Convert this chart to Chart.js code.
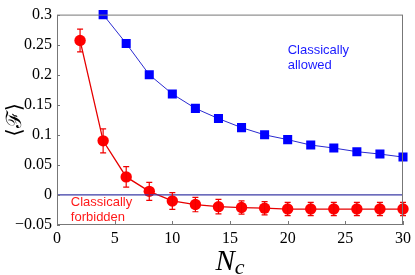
<!doctype html>
<html>

<head>
  <title>classically allowed / forbidden</title>
  <script src="https://cdn.jsdelivr.net/npm/chart.js@4.4.1/dist/chart.umd.min.js"></script>
  <style>
    html, body {
      margin: 0;
      padding: 0;
      background: #fff;
    }
    canvas {
      display: block;
    }
  </style>
</head>

<body>
  <canvas id="myChart" width="415" height="275"></canvas>

  <script>
    // N_c values and <F>
    var nForbidden = [2, 4, 6, 8, 10, 12, 14, 16, 18, 20, 22, 24, 26, 28, 30];
    var fForbidden = [0.257, 0.090, 0.030, 0.006, -0.010, -0.016, -0.0195, -0.021, -0.022, -0.0235, -0.0235, -0.0235, -0.0235, -0.0235, -0.0235];
    var errForbidden = [0.019, 0.020, 0.017, 0.015, 0.014, 0.012, 0.012, 0.011, 0.011, 0.011, 0.011, 0.011, 0.011, 0.011, 0.011];

    var nAllowed = [4, 6, 8, 10, 12, 14, 16, 18, 20, 22, 24, 26, 28, 30];
    var fAllowed = [0.300, 0.252, 0.200, 0.168, 0.144, 0.127, 0.112, 0.100, 0.092, 0.083, 0.078, 0.072, 0.068, 0.063];

    var zeroLineX = [0, 30];
    var xTicks = [0, 5, 10, 15, 20, 25, 30];
    var yTicks = [-0.05, 0, 0.05, 0.1, 0.15, 0.2, 0.25, 0.3];

    function pts(xs, ys) {
      return xs.map(function(x, i) { return {x: x, y: ys[i]}; });
    }

    var serif = "'Liberation Serif', 'Times New Roman', serif";
    var sans = "'Liberation Sans', Arial, sans-serif";

    // error bars, inward ticks, frame, annotations, x title with subscript
    var extras = {
      id: 'extras',
      afterDatasetsDraw: function(chart) {
        var ctx = chart.ctx;
        var xs = chart.scales.x, ys = chart.scales.y;
        var area = chart.chartArea;
        ctx.save();

        // error bars on the red series
        ctx.strokeStyle = '#f00000';
        ctx.lineWidth = 1.2;
        nForbidden.forEach(function(n, i) {
          var px = xs.getPixelForValue(n);
          var top = ys.getPixelForValue(fForbidden[i] + errForbidden[i]);
          var bot = ys.getPixelForValue(fForbidden[i] - errForbidden[i]);
          ctx.beginPath();
          ctx.moveTo(px, top); ctx.lineTo(px, bot);
          ctx.moveTo(px - 3, top); ctx.lineTo(px + 3, top);
          ctx.moveTo(px - 3, bot); ctx.lineTo(px + 3, bot);
          ctx.stroke();
        });

        // frame
        ctx.strokeStyle = '#777';
        ctx.lineWidth = 1;
        ctx.strokeRect(area.left + 0.5, area.top + 0.5, area.right - area.left - 1, area.bottom - area.top - 1);

        // inward ticks
        ctx.beginPath();
        xTicks.forEach(function(v) {
          var px = Math.round(xs.getPixelForValue(v)) + 0.5;
          ctx.moveTo(px, area.bottom); ctx.lineTo(px, area.bottom - 4);
        });
        yTicks.forEach(function(v) {
          var py = Math.round(ys.getPixelForValue(v)) + 0.5;
          ctx.moveTo(area.left, py); ctx.lineTo(area.left + 3, py);
        });
        ctx.stroke();

        // annotations
        ctx.font = '13px ' + sans;
        ctx.textBaseline = 'middle';
        ctx.textAlign = 'left';
        ctx.fillStyle = '#1a1aff';
        ctx.fillText('Classically', xs.getPixelForValue(20), ys.getPixelForValue(0.241));
        ctx.fillText('allowed', xs.getPixelForValue(20), ys.getPixelForValue(0.215));
        ctx.fillStyle = '#ff1a1a';
        ctx.fillText('Classically', xs.getPixelForValue(1.2), ys.getPixelForValue(-0.0125));
        ctx.fillText('forbidden', xs.getPixelForValue(1.2), ys.getPixelForValue(-0.037));

        // x axis title N_c
        ctx.fillStyle = '#000';
        ctx.textBaseline = 'alphabetic';
        var cx = (area.left + area.right) / 2;
        ctx.font = 'italic 29px ' + serif;
        var wN = ctx.measureText('N').width;
        ctx.font = 'italic 22px ' + serif;
        var wc = ctx.measureText('c').width;
        var x0 = cx - (wN + wc) / 2;
        ctx.font = 'italic 29px ' + serif;
        ctx.fillText('N', x0, 270);
        ctx.font = 'italic 22px ' + serif;
        ctx.fillText('c', x0 + wN, 274);

        ctx.restore();
      }
    };

    var config = {
      type: 'scatter',
      data: {
        datasets: [{
          label: 'zero',
          data: pts(zeroLineX, [0, 0]),
          showLine: true,
          borderColor: '#3b3ba6',
          borderWidth: 1.3,
          pointRadius: 0
        }, {
          label: 'allowed',
          data: pts(nAllowed, fAllowed),
          showLine: true,
          borderColor: '#2a2ad0',
          borderWidth: 1,
          pointStyle: 'rect',
          pointRadius: 6.4,
          pointBackgroundColor: '#0000ff',
          pointBorderColor: '#0000ff',
          pointBorderWidth: 0,
          clip: 8
        }, {
          label: 'forbidden',
          data: pts(nForbidden, fForbidden),
          showLine: true,
          borderColor: '#e60000',
          borderWidth: 1.3,
          pointStyle: 'circle',
          pointRadius: 5.7,
          pointBackgroundColor: '#ff0000',
          pointBorderColor: '#ff0000',
          pointBorderWidth: 0,
          clip: 8
        }]
      },
      options: {
        responsive: false,
        animation: false,
        layout: {
          padding: {top: 10, right: 9, left: 0, bottom: 0}
        },
        scales: {
          x: {
            type: 'linear',
            min: 0,
            max: 30,
            afterBuildTicks: function(scale) {
              scale.ticks = xTicks.map(function(v) { return {value: v}; });
            },
            afterFit: function(scale) { scale.height = 50; },
            grid: {display: false, drawTicks: false},
            border: {display: false},
            ticks: {
              color: '#000',
              padding: 4,
              maxRotation: 0,
              autoSkip: false,
              font: {family: serif, size: 16}
            }
          },
          y: {
            type: 'linear',
            min: -0.05,
            max: 0.3,
            afterBuildTicks: function(scale) {
              scale.ticks = yTicks.map(function(v) { return {value: v}; });
            },
            afterFit: function(scale) { scale.width = 57; },
            grid: {display: false, drawTicks: false},
            border: {display: false},
            title: {
              display: true,
              text: '\u27E8\u2131\u27E9',
              color: '#000',
              padding: {top: 3, bottom: 0},
              font: {family: "'DejaVu Serif', serif", size: 21}
            },
            ticks: {
              color: '#000',
              padding: 5,
              autoSkip: false,
              font: {family: serif, size: 16},
              callback: function(v) {
                var s = String(Math.round(v * 100) / 100);
                return s.replace('-', '\u2212');
              }
            }
          }
        },
        plugins: {
          legend: {display: false},
          tooltip: {enabled: false}
        }
      },
      plugins: [extras]
    };

    var ctx = document.getElementById('myChart').getContext('2d');
    window.myChart = new Chart(ctx, config);
  </script>
</body>

</html>
